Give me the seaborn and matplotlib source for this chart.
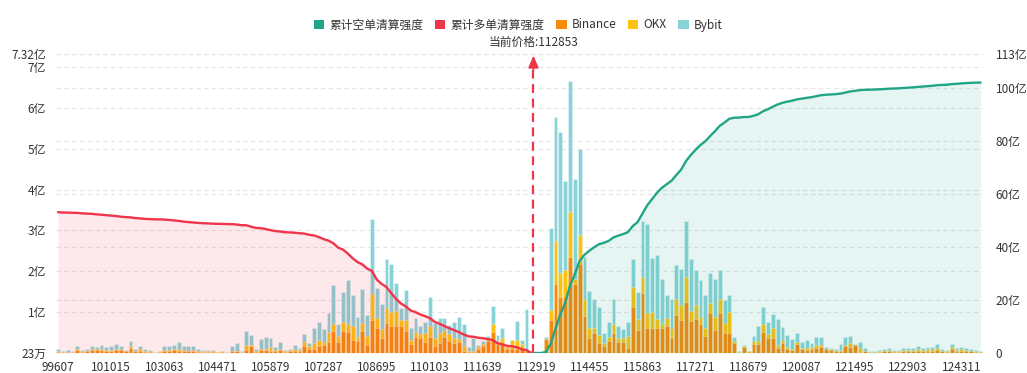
import numpy as np
import pandas as pd
import matplotlib
matplotlib.use("Agg")
import matplotlib.pyplot as plt
import matplotlib.transforms as mtransforms
from matplotlib.patches import Patch
import seaborn as sns

# ---------------- data (values in 亿) ----------------
binance = [
    0.03, 0.01, 0.02, 0.01, 0.07, 0.03, 0.04, 0.07, 0.08, 0.08,
    0.05, 0.06, 0.08, 0.07, 0.04, 0.12, 0.04, 0.06, 0.03, 0.03,
    0.01, 0.02, 0.05, 0.06, 0.07, 0.06, 0.05, 0.04, 0.05, 0.03,
    0.02, 0.03, 0.02, 0.01, 0.03, 0.00, 0.04, 0.04, 0.01, 0.07,
    0.17, 0.03, 0.07, 0.07, 0.06, 0.06, 0.07, 0.02, 0.05, 0.06,
    0.04, 0.17, 0.11, 0.10, 0.17, 0.19, 0.28, 0.53, 0.27, 0.54,
    0.51, 0.32, 0.29, 0.54, 0.20, 0.82, 0.60, 0.37, 0.74, 0.67,
    0.66, 0.66, 0.55, 0.21, 0.39, 0.36, 0.27, 0.39, 0.17, 0.25,
    0.39, 0.29, 0.25, 0.27, 0.05, 0.02, 0.02, 0.11, 0.16, 0.29,
    0.52, 0.21, 0.21, 0.11, 0.11, 0.11, 0.10, 0.06, 0.00, 0.00,
    0.00, 0.35, 0.80, 1.68, 1.37, 1.36, 2.35, 1.68, 2.17, 0.90,
    0.37, 0.50, 0.25, 0.17, 0.30, 0.50, 0.27, 0.27, 0.12, 1.13,
    0.57, 1.46, 0.60, 0.62, 0.62, 0.60, 0.66, 0.37, 0.93, 0.80,
    1.25, 0.78, 0.84, 0.70, 0.41, 0.99, 0.57, 0.97, 0.48, 0.48,
    0.24, 0.01, 0.15, 0.01, 0.23, 0.23, 0.51, 0.37, 0.37, 0.13,
    0.25, 0.09, 0.08, 0.23, 0.09, 0.07, 0.10, 0.13, 0.14, 0.09,
    0.08, 0.05, 0.05, 0.17, 0.15, 0.19, 0.03, 0.04, 0.02, 0.02,
    0.03, 0.04, 0.05, 0.03, 0.03, 0.05, 0.05, 0.05, 0.06, 0.05,
    0.06, 0.06, 0.08, 0.04, 0.03, 0.11, 0.05, 0.06, 0.05, 0.04,
    0.03, 0.02,
]
okx = [
    0.01, 0.01, 0.01, 0.02, 0.03, 0.01, 0.02, 0.03, 0.01, 0.03,
    0.02, 0.02, 0.03, 0.02, 0.01, 0.06, 0.02, 0.03, 0.02, 0.02,
    0.00, 0.02, 0.02, 0.02, 0.02, 0.03, 0.02, 0.02, 0.02, 0.01,
    0.02, 0.01, 0.02, 0.01, 0.01, 0.01, 0.02, 0.02, 0.02, 0.13,
    0.03, 0.01, 0.03, 0.03, 0.08, 0.02, 0.03, 0.02, 0.02, 0.04,
    0.03, 0.10, 0.05, 0.15, 0.15, 0.08, 0.24, 0.19, 0.15, 0.22,
    0.19, 0.34, 0.11, 0.20, 0.21, 0.63, 0.25, 0.21, 0.37, 0.33,
    0.36, 0.15, 0.27, 0.12, 0.13, 0.11, 0.22, 0.27, 0.20, 0.24,
    0.15, 0.18, 0.12, 0.08, 0.12, 0.02, 0.02, 0.03, 0.06, 0.08,
    0.18, 0.08, 0.15, 0.04, 0.22, 0.22, 0.12, 0.02, 0.00, 0.00,
    0.00, 0.00, 0.25, 1.05, 0.60, 0.66, 1.09, 0.12, 0.73, 0.41,
    0.23, 0.10, 0.19, 0.08, 0.09, 0.21, 0.09, 0.09, 0.30, 0.49,
    0.26, 0.40, 0.38, 0.38, 0.21, 0.12, 0.19, 0.25, 0.38, 0.38,
    0.60, 0.24, 0.33, 0.18, 0.20, 0.23, 0.30, 0.36, 0.26, 0.53,
    0.06, 0.02, 0.01, 0.03, 0.06, 0.07, 0.20, 0.10, 0.25, 0.06,
    0.07, 0.06, 0.03, 0.04, 0.04, 0.05, 0.04, 0.06, 0.06, 0.01,
    0.01, 0.01, 0.02, 0.03, 0.09, 0.01, 0.09, 0.02, 0.01, 0.01,
    0.02, 0.02, 0.03, 0.01, 0.02, 0.02, 0.02, 0.02, 0.03, 0.03,
    0.03, 0.03, 0.04, 0.02, 0.01, 0.04, 0.02, 0.03, 0.02, 0.02,
    0.01, 0.01,
]
bybit = [
    0.07, 0.02, 0.04, 0.01, 0.08, 0.04, 0.05, 0.08, 0.05, 0.08,
    0.07, 0.10, 0.12, 0.08, 0.03, 0.11, 0.05, 0.09, 0.04, 0.03,
    0.02, 0.02, 0.09, 0.08, 0.10, 0.18, 0.10, 0.10, 0.09, 0.07,
    0.04, 0.04, 0.04, 0.01, 0.01, 0.02, 0.10, 0.18, 0.01, 0.35,
    0.25, 0.05, 0.24, 0.30, 0.23, 0.06, 0.17, 0.04, 0.04, 0.10,
    0.06, 0.19, 0.09, 0.37, 0.44, 0.31, 0.47, 0.95, 0.30, 0.74,
    1.08, 0.77, 0.48, 0.83, 0.52, 1.83, 0.74, 0.62, 1.20, 1.18,
    0.70, 0.29, 0.73, 0.29, 0.34, 0.19, 0.27, 0.72, 0.37, 0.36,
    0.31, 0.21, 0.39, 0.54, 0.55, 0.11, 0.33, 0.06, 0.07, 0.04,
    0.45, 0.14, 0.24, 0.02, 0.00, 0.45, 0.11, 1.00, 0.00, 0.00,
    0.00, 0.05, 2.02, 3.05, 3.45, 2.20, 3.21, 2.46, 2.10, 1.04,
    0.91, 0.73, 0.69, 0.25, 0.37, 0.60, 0.30, 0.23, 0.34, 0.67,
    0.67, 1.36, 2.17, 1.32, 1.56, 1.08, 0.56, 0.69, 0.84, 0.87,
    1.37, 1.27, 0.85, 0.90, 0.80, 0.75, 0.95, 0.71, 0.55, 0.40,
    0.08, 0.02, 0.03, 0.01, 0.13, 0.35, 0.41, 0.28, 0.33, 0.64,
    0.31, 0.30, 0.24, 0.23, 0.13, 0.19, 0.11, 0.19, 0.18, 0.05,
    0.03, 0.05, 0.15, 0.19, 0.18, 0.03, 0.14, 0.07, 0.02, 0.02,
    0.03, 0.04, 0.05, 0.03, 0.03, 0.05, 0.05, 0.05, 0.08, 0.05,
    0.06, 0.06, 0.10, 0.04, 0.03, 0.08, 0.05, 0.06, 0.05, 0.04,
    0.03, 0.01,
]
tick_prices = [99607, 101015, 103063, 104471, 105879, 107287, 108695, 110103,
               111639, 112919, 114455, 115863, 117271, 118679, 120087, 121495,
               122903, 124311]
tick_step = 11
current_price = 112853
left_unit_labels = ["23万", "1亿", "2亿", "3亿", "4亿", "5亿", "6亿", "7亿"]
right_ticks = [0, 20, 40, 60, 80, 100]

series_names = ["累计空单清算强度", "累计多单清算强度", "Binance", "OKX", "Bybit"]

# ---------------- styles ----------------
C_SHORT = "#21A587"
C_LONG = "#F0344A"
C_BIN = "#F7890C"
C_OKX = "#FCC20E"
C_BYB = "#88D3D7"
TXT = "#333333"
GRID = "#E4E4E4"

sns.set_style("white")
plt.rcParams["font.family"] = ["Noto Sans CJK SC", "DejaVu Sans"]
plt.rcParams["axes.unicode_minus"] = False

N = len(binance)
pos = np.arange(N)
b = np.array(binance)
o = np.array(okx)
y = np.array(bybit)
total = b + o + y
df = pd.DataFrame({"pos": pos, "bin": b, "binokx": b + o, "total": total})

tick_pos = np.arange(0, N, tick_step)[: len(tick_prices)]
cur_idx = float(np.interp(current_price, tick_prices, tick_pos))
split = int(np.floor(cur_idx)) + 1

long_cum = np.cumsum(total[:split][::-1])[::-1]
long_cum = long_cum - total[split - 1] if total[split - 1] == 0 else long_cum
long_x = pos[:split]
short_cum = np.concatenate([[0.0], np.cumsum(total[split:])])
short_x = pos[split - 1:]

left_max = np.ceil(total.max() * 1.1 * 100) / 100
right_max = np.ceil(max(long_cum.max(), short_cum.max()) * 1.1)

fig = plt.figure(figsize=(10.27, 3.73), dpi=100)
ax = fig.add_axes([55.6 / 1027, 20 / 373, 927.4 / 1027, 299 / 373])

bar_kw = dict(width=0.8, saturation=1, errorbar=None, edgecolor=(1, 1, 1, 0.45),
              linewidth=0.5, ax=ax)
sns.barplot(data=df, x="pos", y="total", color=C_BYB, **bar_kw)
sns.barplot(data=df, x="pos", y="binokx", color=C_OKX, **bar_kw)
sns.barplot(data=df, x="pos", y="bin", color=C_BIN, **bar_kw)

ax.set_xlim(-0.5, N - 0.5)
ax.set_ylim(0, left_max)
ax.set_xlabel("")
ax.set_ylabel("")

left_ticks = list(range(len(left_unit_labels))) + [left_max]
left_labels = left_unit_labels + [f"{left_max:g}亿"]
ax.set_yticks(left_ticks)
ax.set_yticklabels(left_labels)
ax.set_xticks(tick_pos)
ax.set_xticklabels([str(p) for p in tick_prices])

# grid lines (left and right tick levels), behind bars
for v in left_ticks[1:]:
    ax.axhline(v, color=GRID, lw=0.8, ls=(0, (4, 3)), zorder=0.5)
for v in right_ticks[1:] + [right_max]:
    ax.axhline(v * left_max / right_max, color=GRID, lw=0.8, ls=(0, (4, 3)), zorder=0.5)

ax2 = ax.twinx()
ax2.set_ylim(0, right_max)
ax2.fill_between(long_x, long_cum, 0, color=C_LONG, alpha=0.11, lw=0)
ax2.fill_between(short_x, short_cum, 0, color=C_SHORT, alpha=0.105, lw=0)
sns.lineplot(x=long_x, y=long_cum, ax=ax2, color=C_LONG, lw=1.7)
sns.lineplot(x=short_x, y=short_cum, ax=ax2, color=C_SHORT, lw=1.7)
ax2.set_xlim(-0.5, N - 0.5)
ax2.set_ylabel("")
ax2.set_yticks(right_ticks + [right_max])
ax2.set_yticklabels([("0" if v == 0 else f"{v:g}亿") for v in right_ticks + [right_max]])

for a in (ax, ax2):
    for s in a.spines.values():
        s.set_visible(False)
    a.tick_params(length=0, labelsize=8.5, labelcolor=TXT)
ax.tick_params(axis="y", pad=7)
ax2.tick_params(axis="y", pad=9)
ax.tick_params(axis="x", pad=6)

# current price marker
trans = mtransforms.blended_transform_factory(ax2.transData, ax2.transAxes)
ax2.plot([cur_idx, cur_idx], [0, 0.965], transform=trans, color=C_LONG, lw=1.6,
         ls=(0, (4, 2.5)), zorder=5)
ax2.annotate("", xy=(cur_idx, 0.995), xytext=(cur_idx, 0.95), xycoords=trans,
             textcoords=trans,
             arrowprops=dict(arrowstyle="-|>,head_length=0.7,head_width=0.3",
                             color=C_LONG, lw=1.4, shrinkA=0, shrinkB=0), zorder=6)
ax2.text(cur_idx, 1.04, f"当前价格:{current_price}", transform=trans, ha="center",
         va="center", fontsize=8.5, color=TXT)

handles = [Patch(facecolor=c, edgecolor="none") for c in (C_SHORT, C_LONG, C_BIN, C_OKX, C_BYB)]
fig.legend(handles, series_names, loc="center", bbox_to_anchor=(518 / 1027, 1 - 25 / 373),
           ncol=5, frameon=False, fontsize=8.5, handlelength=0.9, handleheight=0.9,
           handletextpad=0.4, columnspacing=1.0, labelcolor=TXT)

fig.savefig("out.png", dpi=100)
